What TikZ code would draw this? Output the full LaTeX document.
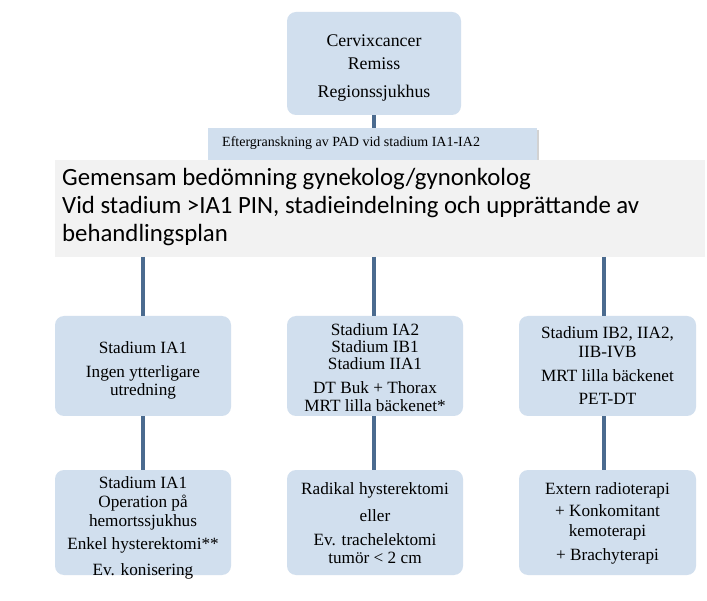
\documentclass[tikz,border=0pt]{standalone}
\usepackage{fontspec}
\setmainfont{Liberation Serif}
\newfontfamily\calfont{Carlito}
\usetikzlibrary{shadows}
\definecolor{boxfill}{HTML}{D1DFEE}
\definecolor{linecol}{HTML}{4B6B8F}
\definecolor{greyfill}{HTML}{F2F2F2}
\tikzset{
  bluebox/.style={fill=boxfill, rounded corners=9pt, inner sep=0pt},
  boxtext/.style={inner sep=0pt, align=center, font=\fontsize{17.2}{17}\selectfont, text=black},
  conn/.style={draw=linecol, line width=3.5pt},
}
\begin{document}
\begin{tikzpicture}[x=1pt,y=-1pt]
\useasboundingbox (0,0) rectangle (707,601);
\fill[white] (0,0) rectangle (707,601);
% top box
\node[bluebox, minimum width=174pt, minimum height=103pt] (top) at (374,63.5) {};
\node[boxtext, font=\fontsize{17.8}{17}\selectfont] (topt) at (374,68) {Cervixcancer\\[6pt]Remiss\\[11pt]Regionssjukhus};
% PAD bar
\node[fill=boxfill, minimum width=329pt, minimum height=32pt, inner sep=0pt,
  drop shadow={shadow xshift=2pt, shadow yshift=-2pt, opacity=0.35}] (pad) at (372.5,144) {};
\node[anchor=west, inner sep=0pt, font=\fontsize{14}{16}\selectfont] (padtxt) at (222,143)
  {Eftergranskning av PAD vid stadium IA1-IA2};
\draw[conn] (top.south) -- (top.south |- pad.north);
% grey box
\node[fill=greyfill, minimum width=650pt, minimum height=97pt, inner sep=0pt] (grey) at (380,208.5) {};
\node[anchor=north west, inner sep=0pt, align=left, font=\calfont\fontsize{24.8}{28}\selectfont] (greytxt) at (62,168)
  {Gemensam bedömning gynekolog/gynonkolog\\Vid stadium >IA1 PIN, stadieindelning och upprättande av\\behandlingsplan};
% row 1
\node[bluebox, minimum width=176pt, minimum height=100pt] (a1) at (143,366) {};
\node[boxtext] (a1t) at (143,370.5) {Stadium IA1\\[7pt]Ingen ytterligare\\[1pt]utredning};
\node[bluebox, minimum width=176pt, minimum height=100pt] (b1) at (375,366) {};
\node[boxtext] (b1t) at (375,367.5) {Stadium IA2\\[-0.5pt]Stadium IB1\\[0pt]Stadium IIA1\\[7pt]DT Buk + Thorax\\[1pt]MRT lilla bäckenet*};
\node[bluebox, minimum width=177pt, minimum height=100pt] (c1) at (607.5,366) {};
\node[boxtext] (c1t) at (607.5,366) {Stadium IB2, IIA2,\\[2pt]IIB-IVB\\[7pt]MRT lilla bäckenet\\[6pt]PET-DT};
% row 2
\node[bluebox, minimum width=176pt, minimum height=105pt] (a2) at (143,522.5) {};
\node[boxtext] (a2t) at (143,527.5) {Stadium IA1\\[2pt]Operation på\\[2pt]hemortssjukhus\\[6pt]Enkel hysterektomi**\\[9pt]Ev. konisering};
\node[bluebox, minimum width=176pt, minimum height=105pt] (b2) at (375,522.5) {};
\node[boxtext] (b2t) at (375,523.5) {Radikal hysterektomi\\[10pt]eller\\[7pt]Ev. trachelektomi\\[1pt]tumör < 2 cm};
\node[bluebox, minimum width=177pt, minimum height=105pt] (c2) at (607.5,522.5) {};
\node[boxtext] (c2t) at (607.5,523) {Extern radioterapi\\[5pt]+ Konkomitant\\[3pt]kemoterapi\\[7pt]+ Brachyterapi};
% connectors
\coordinate (g1) at (143,257);
\coordinate (g2) at (374,257);
\coordinate (g3) at (604,257);
\draw[conn] (g1) -- (g1 |- a1.north);
\draw[conn] (g2) -- (g2 |- b1.north);
\draw[conn] (g3) -- (g3 |- c1.north);
\draw[conn] (a1.south) -- (a2.north);
\draw[conn] (b1.south -| g2) -- (g2 |- b2.north);
\draw[conn] (c1.south -| g3) -- (g3 |- c2.north);
\end{tikzpicture}
\end{document}
